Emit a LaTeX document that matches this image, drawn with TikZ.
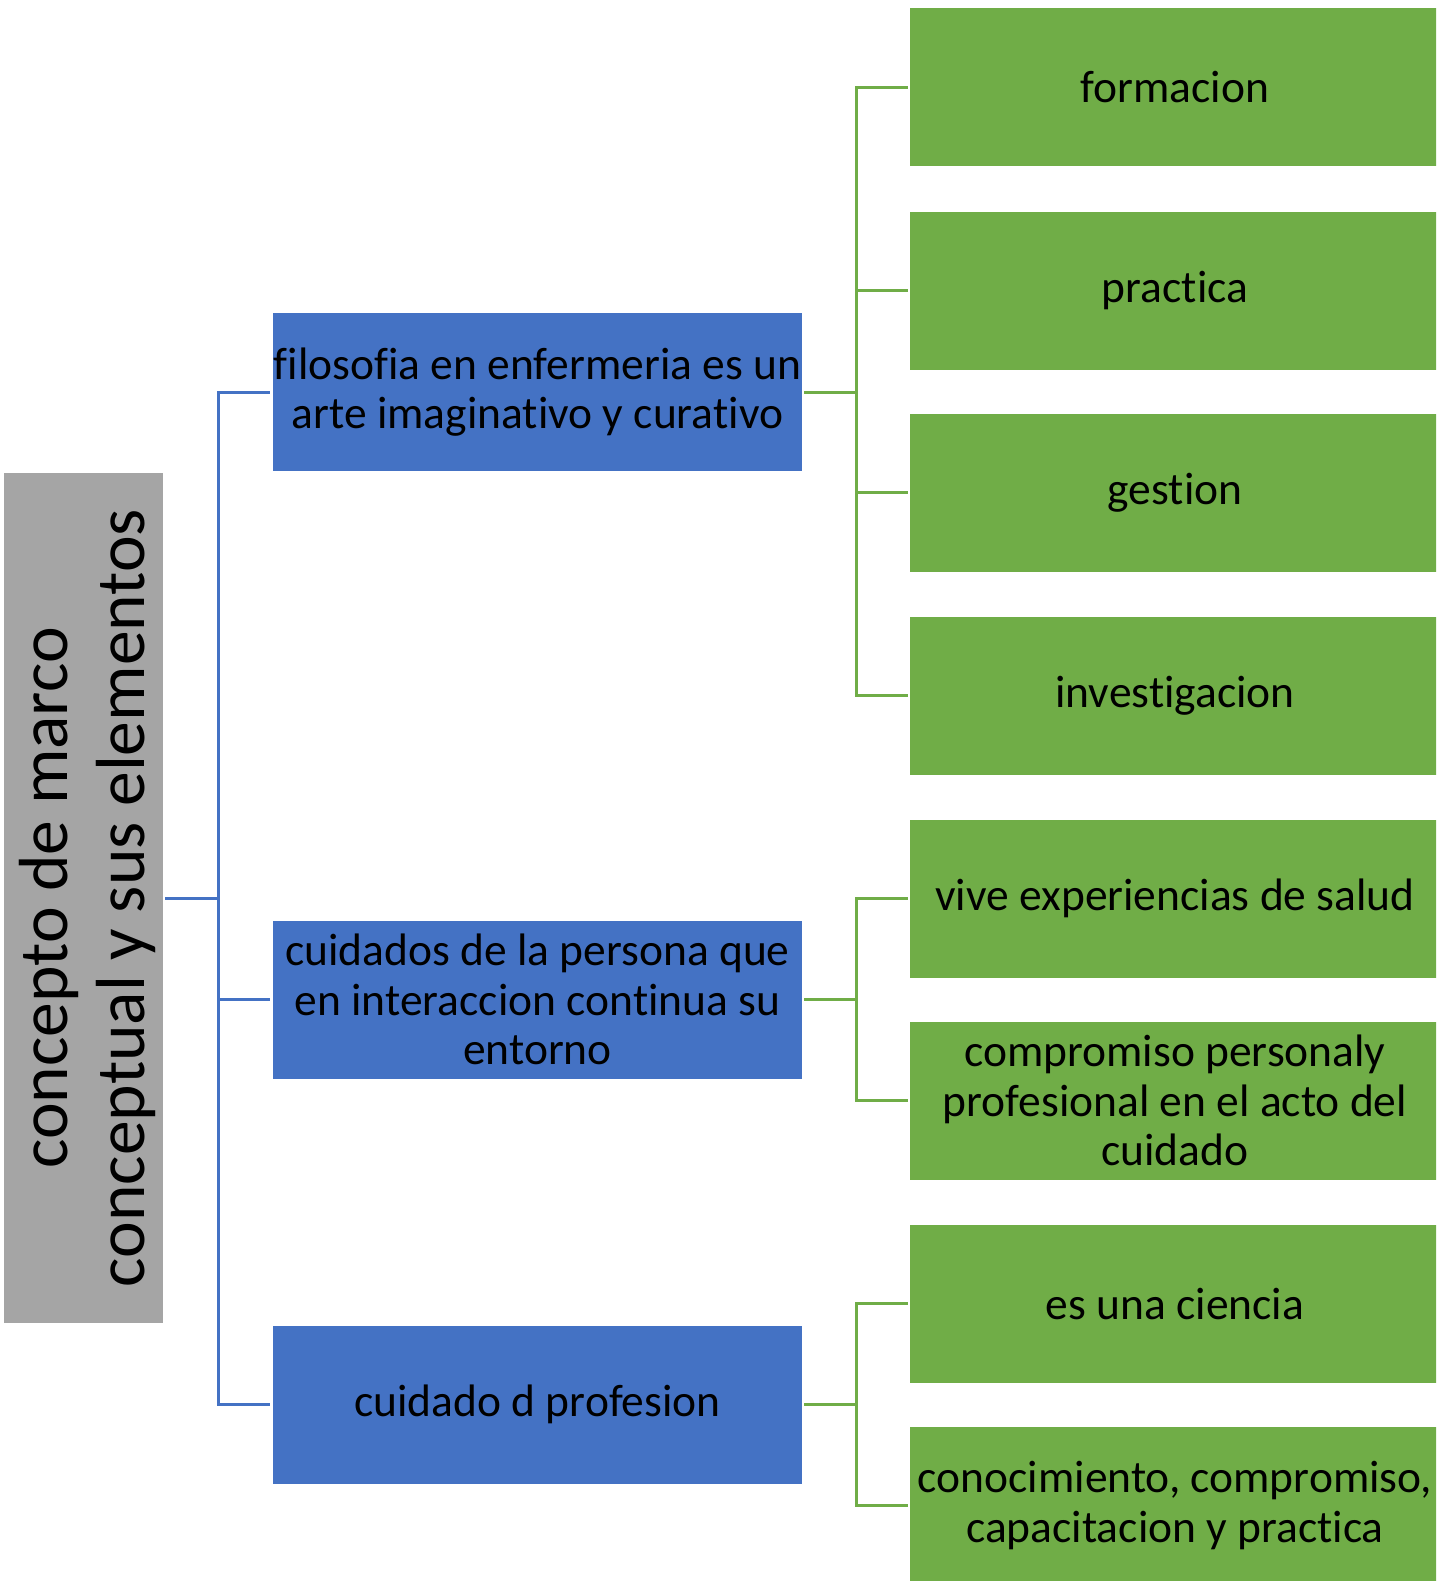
\documentclass[tikz,border=0pt]{standalone}
\usepackage{fontspec}
\setmainfont{Carlito}[Ligatures=NoCommon]
\definecolor{cblue}{HTML}{4472C4}
\definecolor{cgreen}{HTML}{70AD47}
\definecolor{cgray}{HTML}{A5A5A5}
\begin{document}
\begin{tikzpicture}[x=1pt,y=-1pt,
  bluebox/.style={fill=cblue,draw=none,minimum width=529pt,minimum height=158pt,inner sep=0pt,
    align=center,font=\fontsize{45.5}{49.5}\selectfont},
  greenbox/.style={fill=cgreen,draw=none,minimum width=530pt,minimum height=158pt,inner sep=0pt,
    align=center,font=\fontsize{45.5}{49.5}\selectfont},
  bline/.style={draw=cblue,line width=3pt},
  gline/.style={draw=cgreen,line width=3pt}]
\useasboundingbox (0,0) rectangle (1436,1581);
\clip (0,0) rectangle (1436,1581);
% root
\node[fill=cgray,minimum width=159pt,minimum height=850pt,inner sep=0pt] (root) at (83.5,898) {};
\node[rotate=90,align=center,font=\fontsize{69.5}{77}\selectfont] (roottxt) at (87,898) {concepto de marco\\conceptual y sus elementos};
% blue
\node[bluebox] (b1) at (537.5,392) {filosofia en enfermeria es un\\arte imaginativo y curativo};
\node[bluebox] (b2) at (537.5,999.5) {cuidados de la persona que\\en interaccion continua su\\entorno};
\node[bluebox] (b3) at (537.5,1404.5) {cuidado d profesion};
% green
\node[greenbox] (g1) at (1175,87.5) {formacion};
\node[greenbox] (g2) at (1175,290.5) {practica};
\node[greenbox] (g3) at (1175,492.5) {gestion};
\node[greenbox] (g4) at (1175,695.5) {investigacion};
\node[greenbox] (g5) at (1175,898.5) {vive experiencias de salud};
\node[greenbox] (g6) at (1175,1100.5) {compromiso personaly\\profesional en el acto del\\cuidado};
\node[greenbox] (g7) at (1175,1303.5) {es una ciencia};
\node[greenbox] (g8) at (1175,1505.5) {conocimiento, compromiso,\\capacitacion y practica};
% blue connectors
\coordinate (bj) at (218,898);
\draw[bline] ([xshift=2pt]root.east) -- (bj);
\foreach \b in {b1,b2,b3}{
  \draw[bline] (bj) |- ([xshift=-3pt]\b.west);
}
% green connectors
\foreach \b/\gs in {b1/{g1,g2,g3,g4},b2/{g5,g6},b3/{g7,g8}}{
  \coordinate (j) at ([xshift=54pt]\b.east);
  \draw[gline] ([xshift=2pt]\b.east) -- (j);
  \foreach \g in \gs {
    \draw[gline] (j) |- ([xshift=-2pt]\g.west);
  }
}
\end{tikzpicture}
\end{document}
